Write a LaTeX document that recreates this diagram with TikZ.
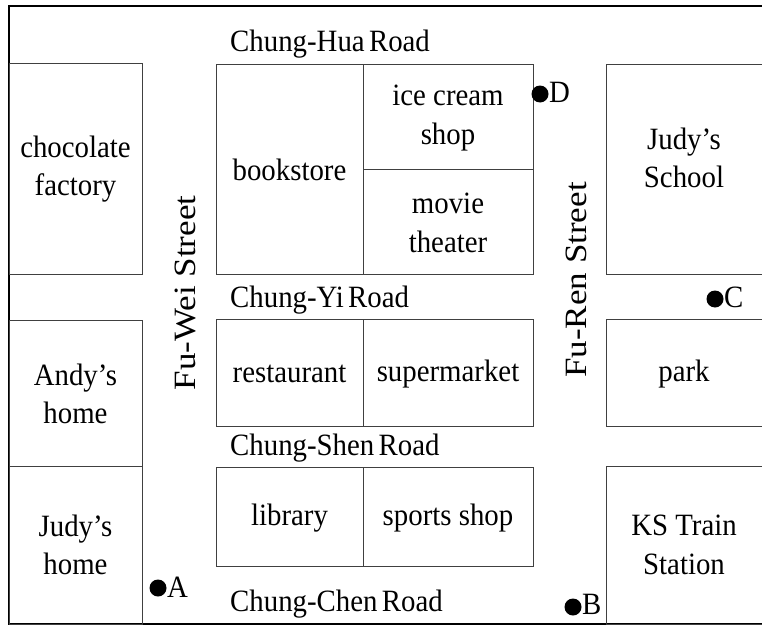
\documentclass[tikz,border=0pt]{standalone}
\usepackage{fontspec}
\setmainfont{Liberation Serif}[FakeStretch=0.93]
\newfontfamily\roadfont{Liberation Serif}[FakeStretch=0.93, WordSpace=0.6]
\newfontfamily\rotfont{Liberation Serif}[FakeStretch=1.13]
\newcommand\bigfs{\fontsize{31}{38.5}\selectfont}
\begin{document}
\begin{tikzpicture}[x=1pt,y=-1pt,
  wall/.style={draw=black!75, line width=1pt},
  frame/.style={draw=black, line width=2pt},
  lbl/.style={font=\bigfs, align=center, inner sep=0pt},
  road/.style={font=\bigfs\roadfont, inner sep=0pt, anchor=base west},
  street/.style={font=\bigfs\rotfont, inner sep=0pt, rotate=90, anchor=base},
  spot/.style={circle, fill=black, inner sep=0pt, minimum size=17pt},
  spotlbl/.style={font=\bigfs, inner sep=0pt, anchor=base west}]
\useasboundingbox (0,0) rectangle (762,626);
\fill[white] (0,0) rectangle (762,626);
% outer frame
\draw[frame] (9,6) rectangle (770,624);
% left column
\draw[wall] (9,63) rectangle (142,274);
\draw[wall] (9,320) rectangle (142,466);
\draw[wall] (9,466) rectangle (142,624);
% middle blocks
\draw[wall] (216,64) rectangle (533,274);
\draw[wall] (363,64) -- (363,274);
\draw[wall] (363,169) -- (533,169);
\draw[wall] (216,319) rectangle (533,426);
\draw[wall] (363,319) -- (363,426);
\draw[wall] (216,467) rectangle (533,566);
\draw[wall] (363,467) -- (363,566);
% right column
\draw[wall] (606,64) rectangle (770,274);
\draw[wall] (606,319) rectangle (770,426);
\draw[wall] (606,466) rectangle (770,624);
% block labels
\node[lbl] (choc) at (75.5,169) {chocolate\\factory};
\node[lbl] (andy) at (75.5,394) {Andy’s\\home};
\node[lbl] (judyh) at (75.5,545) {Judy’s\\home};
\node[lbl] (book) at (289.5,170) {bookstore};
\node[lbl] (ice) at (448,118) {ice cream\\shop};
\node[lbl] (movie) at (448,223) {movie\\theater};
\node[lbl] (rest) at (289.5,374) {restaurant};
\node[lbl] (super) at (448,374) {supermarket};
\node[lbl] (lib) at (289.5,518) {library};
\node[lbl] (sport) at (448,518) {sports shop};
\node[lbl] (school) at (684,158) {Judy’s\\School};
\node[lbl] (park) at (684,374) {park};
\node[lbl] (ks) at (684,545) {KS Train\\Station};
% roads
\node[road] (hua) at (230,52) {Chung-Hua Road};
\node[road] (yi) at (230,307) {Chung-Yi Road};
\node[road] (shen) at (230,455) {Chung-Shen Road};
\node[road] (chen) at (230,611) {Chung-Chen Road};
\node[street] (fuwei) at (195,293) {Fu-Wei Street};
\node[street] (furen) at (586,280) {Fu-Ren Street};
% spots
\node[spot] (dA) at (158,588) {};
\node[spotlbl] (lA) at (167,597) {A};
\node[spot] (dB) at (573,607) {};
\node[spotlbl] (lB) at (582,614) {B};
\node[spot] (dC) at (715,299) {};
\node[spotlbl] (lC) at (724,307) {C};
\node[spot] (dD) at (540,94) {};
\node[spotlbl] (lD) at (549,102) {D};
\end{tikzpicture}
\end{document}
